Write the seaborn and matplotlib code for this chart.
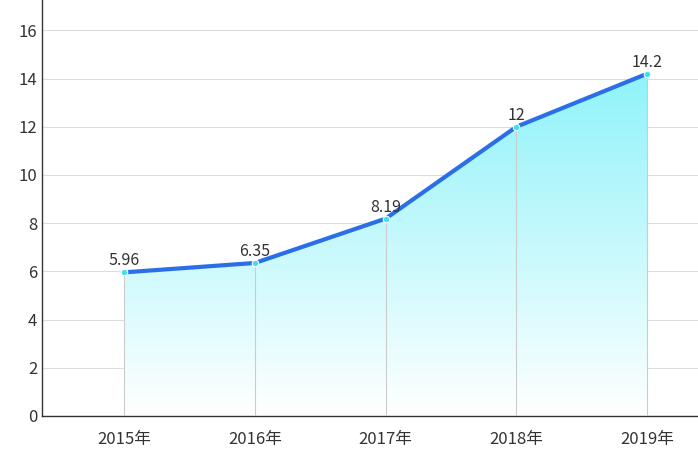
import numpy as np
import matplotlib.pyplot as plt
import seaborn as sns
from matplotlib.colors import LinearSegmentedColormap

years = ['2015年', '2016年', '2017年', '2018年', '2019年']
values = [5.96, 6.35, 8.19, 12, 14.2]
labels = ['5.96', '6.35', '8.19', '12', '14.2']

sns.set_style('white')
plt.rcParams['font.family'] = ['Noto Sans CJK SC', 'DejaVu Sans']

fig = plt.figure(figsize=(6.98, 4.66), dpi=100)
ax = fig.add_axes([42 / 698, 50 / 466, 656 / 698, 416 / 466])

x = np.arange(len(years))
sns.lineplot(x=x, y=values, ax=ax, color='#2a6fe8', linewidth=3, zorder=4)
ax.scatter(x, values, s=22, color='#3ee0f0', edgecolor='white', linewidth=0.8, zorder=5)

# gradient fill under the line
poly = ax.fill_between(x, values, 0, color='none')
cmap = LinearSegmentedColormap.from_list('g', ['#ffffff', '#8ff3fa'])
grad = np.linspace(0, 1, 256).reshape(-1, 1)
im = ax.imshow(grad, cmap=cmap, aspect='auto', origin='lower',
               extent=[x[0], x[-1], 0, max(values)], zorder=2)
im.set_clip_path(poly.get_paths()[0], transform=ax.transData)

for xi, v, t in zip(x, values, labels):
    ax.vlines(xi, 0, v, color='#cccccc', linewidth=0.8, zorder=3)
    ax.text(xi, v + 0.12, t, ha='center', va='bottom', fontsize=11.5, color='#333333', zorder=6)

ax.set_xlim(-0.63, 4.39)
ax.set_ylim(0, 17.26)
ax.set_yticks(range(0, 17, 2))
ax.set_xticks(x)
ax.set_xticklabels(years)
ax.grid(axis='y', color='#dddddd', linewidth=0.8, zorder=0)
ax.set_axisbelow(True)
for s in ['top', 'right']:
    ax.spines[s].set_visible(False)
for s in ['left', 'bottom']:
    ax.spines[s].set_color('#333333')
    ax.spines[s].set_linewidth(1)
ax.tick_params(axis='both', labelsize=12, colors='#333333', length=0)
ax.tick_params(axis='x', length=5, pad=6)

fig.savefig('out.png', dpi=100)
